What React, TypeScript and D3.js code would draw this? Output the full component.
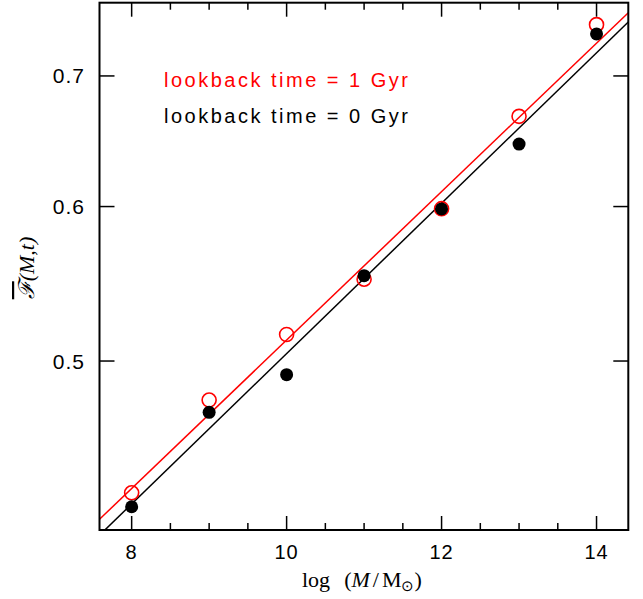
import React from "react";
import * as d3 from "d3";

const massLog = [8, 9, 10, 11, 12, 13, 14];
const fracNow = [0.421, 0.4706, 0.492, 0.553, 0.5983, 0.6459, 0.7356];
const fracLookback1 = [0.428, 0.4775, 0.5159, 0.5507, 0.5985, 0.6674, 0.7437];
const fitX = [7.585, 14.41];
const fitNow = [0.4071, 0.7460];
const fitLookback1 = [0.4148, 0.7542];
const xMajorTicks = [8, 10, 12, 14];
const xMinorTicks = [8.5, 9, 9.5, 10.5, 11, 11.5, 12.5, 13, 13.5];
const yTicks = [0.5, 0.6, 0.7];
const legendLabels = ["lookback time = 1 Gyr", "lookback time = 0 Gyr"];

const W = 643;
const H = 599;
const L = 99.5, R = 628.3, T = 2.7, B = 530;

export default function App() {
  const x = d3.scaleLinear().domain([7.585, 14.41]).range([L, R]);
  const y = d3.scaleLog().domain([0.4096, 0.7632]).range([B, T]);
  const line = d3
    .line<[number, number]>()
    .x((d) => x(d[0]))
    .y((d) => y(d[1]));
  const redLine = fitX.map((v, i) => [v, fitLookback1[i]] as [number, number]);
  const blackLine = fitX.map((v, i) => [v, fitNow[i]] as [number, number]);
  const tickFont = "'Liberation Sans', Arial, sans-serif";
  const serif = "'Liberation Serif', 'Times New Roman', serif";

  return (
    <svg
      width={W}
      height={H}
      style={{ position: "absolute", left: 0, top: 0, background: "#fff" }}
    >
      <defs>
        <clipPath id="plotclip">
          <rect x={L} y={T} width={R - L} height={B - T} />
        </clipPath>
      </defs>
      <rect x={0} y={0} width={W} height={H} fill="#fff" />
      {/* lines */}
      <g clipPath="url(#plotclip)">
        <path d={line(blackLine) || ""} fill="none" stroke="#000" strokeWidth={1.5} />
        <path d={line(redLine) || ""} fill="none" stroke="#ff0000" strokeWidth={1.5} />
      </g>
      {/* points */}
      {massLog.map((m, i) => (
        <circle
          key={"r" + i}
          cx={x(m)}
          cy={y(fracLookback1[i])}
          r={7}
          fill="none"
          stroke="#ff0000"
          strokeWidth={1.6}
        />
      ))}
      {massLog.map((m, i) => (
        <circle key={"b" + i} cx={x(m)} cy={y(fracNow[i])} r={6.5} fill="#000" />
      ))}
      {/* frame */}
      <rect x={L} y={T} width={R - L} height={B - T} fill="none" stroke="#000" strokeWidth={2} />
      {/* x ticks */}
      {xMajorTicks.map((t) => (
        <g key={"xm" + t}>
          <line x1={x(t)} x2={x(t)} y1={B} y2={B - 14} stroke="#000" strokeWidth={1.5} />
          <line x1={x(t)} x2={x(t)} y1={T} y2={T + 14} stroke="#000" strokeWidth={1.5} />
          <text
            x={x(t)}
            y={559}
            textAnchor="middle"
            fontFamily={tickFont}
            fontSize={20}
            letterSpacing={1}
          >
            {t}
          </text>
        </g>
      ))}
      {xMinorTicks.map((t) => (
        <g key={"xn" + t}>
          <line x1={x(t)} x2={x(t)} y1={B} y2={B - 7} stroke="#000" strokeWidth={1.5} />
          <line x1={x(t)} x2={x(t)} y1={T} y2={T + 7} stroke="#000" strokeWidth={1.5} />
        </g>
      ))}
      {/* y ticks */}
      {yTicks.map((t) => (
        <g key={"y" + t}>
          <line x1={L} x2={L + 15} y1={y(t)} y2={y(t)} stroke="#000" strokeWidth={1.5} />
          <line x1={R} x2={R - 15} y1={y(t)} y2={y(t)} stroke="#000" strokeWidth={1.5} />
          <text
            x={85}
            y={y(t) + 7.5}
            textAnchor="end"
            fontFamily={tickFont}
            fontSize={21}
            letterSpacing={1}
          >
            {t.toFixed(1)}
          </text>
        </g>
      ))}
      {/* legend */}
      <text
        x={164}
        y={86.5}
        fill="#ff0000"
        fontFamily={tickFont}
        fontSize={20}
        textLength={244}
        lengthAdjust="spacing"
      >
        {legendLabels[0]}
      </text>
      <text
        x={164}
        y={123.3}
        fill="#000"
        fontFamily={tickFont}
        fontSize={20}
        textLength={244}
        lengthAdjust="spacing"
      >
        {legendLabels[1]}
      </text>
      {/* x label */}
      <text x={302} y={587} fontFamily={serif} fontSize={22}>
        <tspan>log</tspan>
        <tspan dx={14}>(</tspan>
        <tspan fontStyle="italic">M</tspan>
        <tspan dx={3}>/</tspan>
        <tspan dx={3}>M</tspan>
        <tspan fontSize={15} dy={4}>⊙</tspan>
        <tspan dy={-4}>)</tspan>
      </text>
      {/* y label */}
      <text
        transform="translate(34, 268) rotate(-90)"
        textAnchor="middle"
        fontFamily={serif}
        fontSize={22}
        fontStyle="italic"
      >
        <tspan textDecoration="overline" style={{ textDecoration: "overline" }}>ℱ</tspan>
        <tspan>(M,t)</tspan>
      </text>
    </svg>
  );
}
